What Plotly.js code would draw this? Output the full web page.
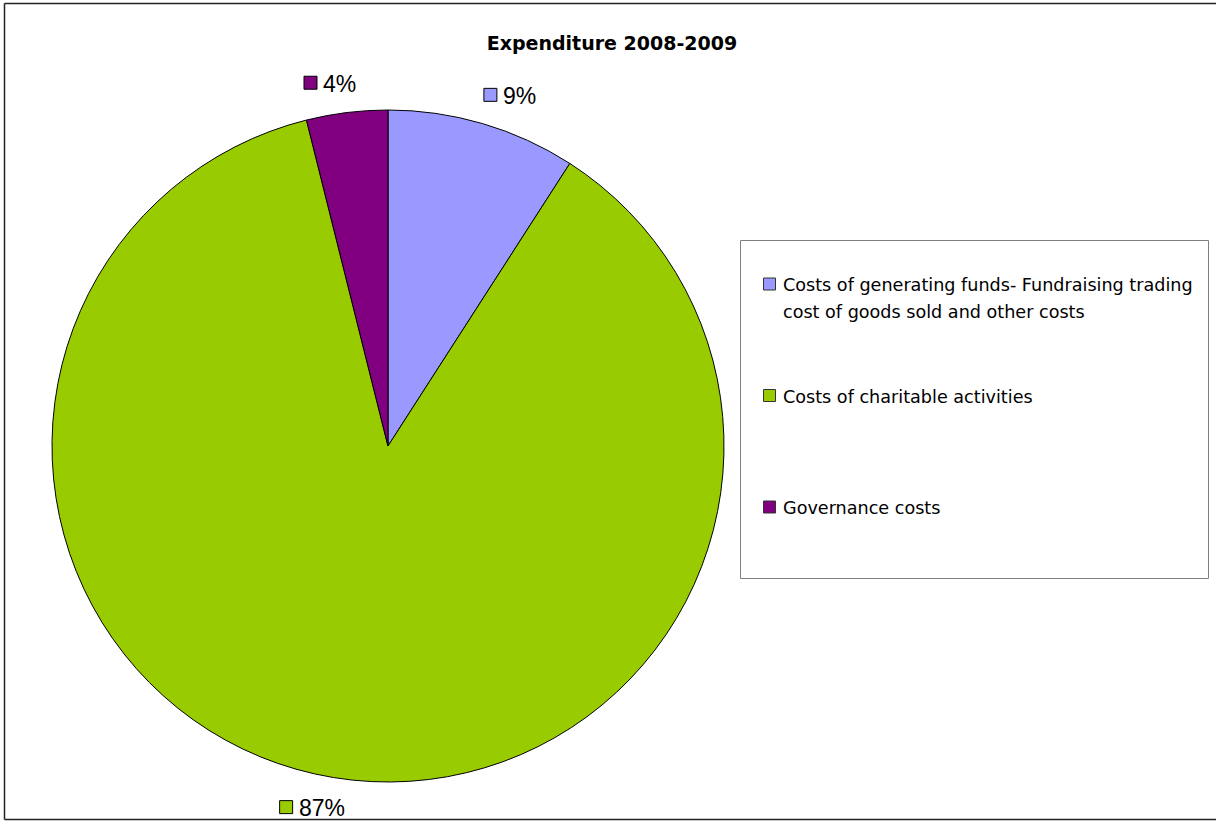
<!DOCTYPE html>
<html>
<head>
<meta charset="utf-8">
<script src="https://cdn.plot.ly/plotly-3.0.1.min.js"></script>
<style>html,body{margin:0;padding:0;background:#fff;overflow:hidden;}#chart{width:1216px;height:821px;}</style>
</head>
<body>
<div id="chart"></div>
<script>
// ---- data ----
const chartTitle = 'Expenditure 2008-2009';
const categories = [
  'Costs of generating funds- Fundraising trading<br>cost of goods sold and other costs',
  'Costs of charitable activities',
  'Governance costs'
];
const values = [9.1, 87.0, 3.9];
const colors = ['#9999FF', '#99CC00', '#800080'];

// ---- layout geometry (pixels) ----
const W = 1216, H = 821;
const cx = 388, cy = 446, r = 336;
const px2x = p => p / W;
const py2y = p => 1 - p / H;

const total = values.reduce((a, b) => a + b, 0);
const pctLabels = values.map(v => Math.round(v / total * 100) + '%');

const shapes = [];
const annotations = [];

// outer chart border (right edge falls outside the picture)
shapes.push({type: 'line', xref: 'paper', yref: 'paper',
  x0: px2x(4.5), x1: px2x(4.5), y0: py2y(3.5), y1: py2y(819.5),
  line: {color: '#222', width: 1.5}});
shapes.push({type: 'line', xref: 'paper', yref: 'paper',
  x0: px2x(4.5), x1: 1, y0: py2y(3.5), y1: py2y(3.5),
  line: {color: '#222', width: 1.5}});
shapes.push({type: 'line', xref: 'paper', yref: 'paper',
  x0: px2x(4.5), x1: 1, y0: py2y(819.5), y1: py2y(819.5),
  line: {color: '#222', width: 1.5}});

// percent labels placed around the pie at each slice's mid-angle
let cum = 0;
values.forEach((v, i) => {
  const mid = (cum + v / 2) / total * 2 * Math.PI;
  cum += v;
  const gx = cx + 445 * Math.sin(mid);
  const gy = cy - 366 * Math.cos(mid);
  const txt = pctLabels[i];
  const digits = txt.length - 1;
  const textW = digits * 12.8 + 20.4;
  const sq = 13, gap = 7;
  const groupW = sq + gap + textW;
  const left = gx - groupW / 2 - 3;
  shapes.push({type: 'rect', xref: 'paper', yref: 'paper',
    x0: px2x(left), x1: px2x(left + sq), y0: py2y(gy - sq / 2), y1: py2y(gy + sq / 2),
    line: {color: '#000', width: 1}, fillcolor: colors[i]});
  annotations.push({xref: 'paper', yref: 'paper', x: px2x(left + sq + gap - 3), y: py2y(gy + 1),
    xanchor: 'left', yanchor: 'middle', showarrow: false, text: txt,
    font: {family: 'Liberation Sans, Arial, sans-serif', size: 23, color: '#000'}});
});

// legend box
shapes.push({type: 'rect', xref: 'paper', yref: 'paper',
  x0: px2x(740.5), x1: px2x(1208.5), y0: py2y(240.5), y1: py2y(578.5),
  line: {color: '#7f7f7f', width: 1}, fillcolor: '#fff'});
categories.forEach((c, i) => {
  const iy = 284 + i * 111.5;
  shapes.push({type: 'rect', xref: 'paper', yref: 'paper',
    x0: px2x(763.5), x1: px2x(775.5), y0: py2y(iy - 6), y1: py2y(iy + 6),
    line: {color: '#333', width: 1}, fillcolor: colors[i]});
  c.split('<br>').forEach((line, li) => {
    annotations.push({xref: 'paper', yref: 'paper', x: px2x(781), y: py2y(iy + li * 27 + 1),
      xanchor: 'left', yanchor: 'middle', showarrow: false, text: line,
      font: {family: 'DejaVu Sans, sans-serif', size: 17.6, color: '#000'}});
  });
});

const trace = {
  type: 'pie',
  labels: categories,
  values: values,
  sort: false,
  direction: 'clockwise',
  rotation: 0,
  textinfo: 'none',
  hoverinfo: 'none',
  showlegend: false,
  marker: {colors: colors, line: {color: '#000', width: 1}},
  domain: {x: [px2x(cx - r), px2x(cx + r)], y: [py2y(cy + r), py2y(cy - r)]}
};

const layout = {
  width: W, height: H,
  margin: {l: 0, r: 0, t: 0, b: 0},
  paper_bgcolor: '#fff',
  showlegend: false,
  title: {text: '<b>' + chartTitle + '</b>', x: px2x(612), xanchor: 'center',
    y: py2y(43), yanchor: 'middle',
    font: {family: 'DejaVu Sans, sans-serif', size: 19, color: '#000'}},
  shapes: shapes,
  annotations: annotations
};

Plotly.newPlot('chart', [trace], layout, {displayModeBar: false, staticPlot: true});
</script>
</body>
</html>
